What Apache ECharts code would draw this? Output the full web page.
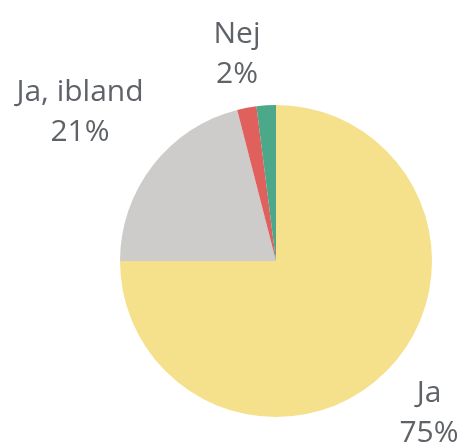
<!DOCTYPE html>
<html>
<head>
<meta charset="utf-8">
<script src="https://cdn.jsdelivr.net/npm/echarts@6/dist/echarts.min.js"></script>
<style>
  html, body { margin: 0; padding: 0; background: #fff; }
  #chart { width: 461px; height: 445px; }
</style>
</head>
<body>
<div id="chart"></div>
<script>
const categories = ["Ja", "Ja, ibland", "Nej", "Vet ej"];
const values = [75, 21, 2, 2];
const colors = ["#f5e18c", "#cdcccb", "#e0605e", "#4ba888"];
const showLabel = [true, true, true, false];

const chart = echarts.init(document.getElementById("chart"), null, { renderer: "canvas" });

// label centres, tuned by eye against the original
const labelSpots = {
  "Ja": [429, 413],
  "Ja, ibland": [80, 112],
  "Nej": [237, 54],
};

chart.setOption({
  animation: false,
  series: [
    {
      type: "pie",
      center: [276, 261],
      radius: 156,
      startAngle: 90,
      clockwise: true,
      avoidLabelOverlap: false,
      label: {
        position: "outside",
        formatter: "{b}\n{d}%",
        color: "#5f6368",
        fontFamily: "Open Sans",
        fontSize: 30,
        lineHeight: 40,
      },
      labelLine: { show: false },
      labelLayout: (params) => {
        const spot = labelSpots[categories[params.dataIndex]];
        if (!spot) return {};
        return { x: spot[0], y: spot[1], align: "center", verticalAlign: "middle" };
      },
      data: categories.map((name, i) => ({
        name,
        value: values[i],
        itemStyle: { color: colors[i] },
        label: { show: showLabel[i] },
      })),
    },
  ],
});
</script>
</body>
</html>
